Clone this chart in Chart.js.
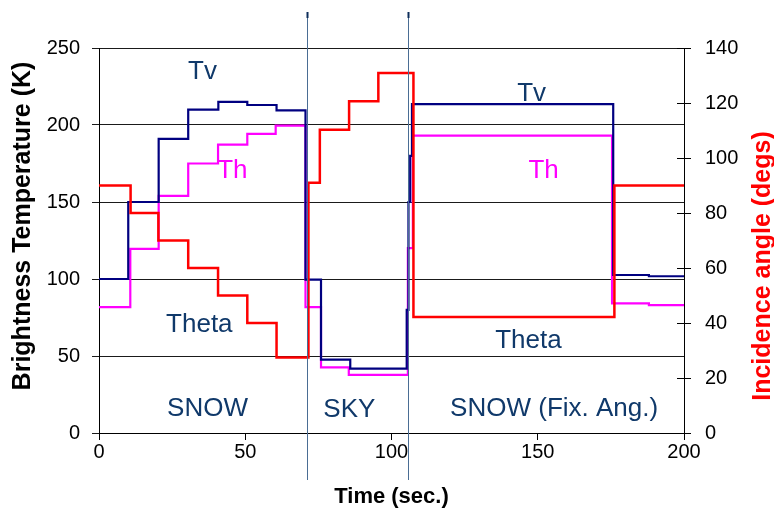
<!DOCTYPE html>
<html>
<head>
<meta charset="utf-8">
<title>Brightness temperature and incidence angle</title>
<script src="https://cdn.jsdelivr.net/npm/chart.js@4/dist/chart.umd.min.js"></script>
<style>
  html, body { margin: 0; padding: 0; background: #ffffff; }
  #wrap { width: 774px; height: 522px; position: relative; }
</style>
</head>
<body>
<div id="wrap"><canvas id="chart"></canvas></div>
<script>
// Radiometer record: each entry starts a new level (step) at that time (s)
const tvTime = [0, 10.0, 20.4, 30.5, 40.8, 50.7, 60.7, 70.6, 75.9, 85.9, 105.2, 105.8, 106.4, 107.0, 175.8, 188.0, 200];
const tvK    = [100, 150, 191, 210, 215, 213, 209.5, 99.6, 47.6, 41.8, 80, 150, 180, 213.6, 102.6, 101.8, 101.8];

const thTime = [0, 10.7, 20.4, 30.5, 40.7, 50.7, 60.4, 70.6, 75.9, 85.4, 105.6, 107.3, 175.4, 188.0, 200];
const thK    = [81.8, 119.5, 154, 175, 187.2, 194.2, 199.6, 81.8, 42.6, 37.8, 120, 193.1, 84.2, 83.1, 83.1];

const thetaTime = [0, 10.8, 20.3, 30.5, 40.7, 50.7, 60.7, 71.6, 75.5, 85.5, 95.5, 107.5, 176.2, 200];
const thetaDeg  = [90, 80, 70, 60, 50, 40, 27.5, 91, 110.3, 120.6, 130.9, 42.2, 90, 90];

// Boundaries between the measurement phases (s)
const phaseBreaks = [71.2, 105.6];

// Axis ranges and tick spacing
const timeTicks = { min: 0, max: 200, step: 50 };
const tbTicks = { min: 0, max: 250, step: 50 };
const angleTicks = { min: 0, max: 140, step: 20 };

// In-plot labels: text, time, brightness temperature
const noteText = ['Tv', 'Th', 'Theta', 'SNOW', 'SKY', 'SNOW (Fix. Ang.)', 'Tv', 'Th', 'Theta'];
const noteTime = [35.4, 45.6, 34.3, 37.1, 85.6, 155.6, 147.9, 152.0, 146.8];
const noteK    = [229.9, 165.6, 65.6, 11.0, 10.4, 11.0, 215.6, 165.6, 55.2];

const FONT = '"Liberation Sans", Arial, sans-serif';
const NAVY_TEXT = '#10396a';
const noteColor = ['navy', 'magenta', 'navy', 'navy', 'navy', 'navy', 'navy', 'magenta', 'navy'];

const pts = (ts, vs) => ts.map((t, i) => ({ x: t, y: vs[i] }));

const overlay = {
  id: 'overlay',
  afterDraw(chart) {
    const ctx = chart.ctx;
    const xs = chart.scales.x, ys = chart.scales.y, y2 = chart.scales.y2;
    ctx.save();

    // inner half of the cross tick marks on the angle axis
    ctx.strokeStyle = '#000';
    ctx.lineWidth = 1;
    y2.ticks.forEach(tk => {
      const py = Math.round(y2.getPixelForValue(tk.value)) + 0.5;
      ctx.beginPath();
      ctx.moveTo(y2.left - 7, py);
      ctx.lineTo(y2.left, py);
      ctx.stroke();
    });

    // phase divider lines
    phaseBreaks.forEach(t => {
      const px = Math.round(xs.getPixelForValue(t)) + 0.5;
      ctx.strokeStyle = '#4a6d94';
      ctx.lineWidth = 1;
      ctx.beginPath();
      ctx.moveTo(px, 12);
      ctx.lineTo(px, 480);
      ctx.stroke();
      ctx.strokeStyle = '#0d2d5a';
      ctx.lineWidth = 2;
      ctx.beginPath();
      ctx.moveTo(px, 12);
      ctx.lineTo(px, 18);
      ctx.stroke();
    });

    // in-plot labels
    ctx.font = '26px ' + FONT;
    ctx.textAlign = 'center';
    ctx.textBaseline = 'alphabetic';
    noteText.forEach((txt, i) => {
      ctx.fillStyle = noteColor[i] === 'magenta' ? '#ff00ff' : NAVY_TEXT;
      ctx.fillText(txt, xs.getPixelForValue(noteTime[i]), ys.getPixelForValue(noteK[i]));
    });

    // vertical axis titles
    ctx.textBaseline = 'middle';
    ctx.font = 'bold 25px ' + FONT;
    ctx.fillStyle = '#000';
    ctx.save();
    ctx.translate(23, 226);
    ctx.rotate(-Math.PI / 2);
    ctx.fillText('Brightness Temperature (K)', 0, 0);
    ctx.restore();

    ctx.fillStyle = '#ff0000';
    ctx.save();
    ctx.translate(763, 266);
    ctx.rotate(-Math.PI / 2);
    ctx.fillText('Incidence angle (degs)', 0, 0);
    ctx.restore();

    ctx.restore();
  }
};

new Chart(document.getElementById('chart'), {
  type: 'line',
  data: {
    datasets: [
      {
        label: 'Theta',
        data: pts(thetaTime, thetaDeg),
        yAxisID: 'y2',
        borderColor: '#ff0000',
        borderWidth: 2.5,
        stepped: 'before',
        pointRadius: 0,
        order: 0
      },
      {
        label: 'Tv',
        data: pts(tvTime, tvK),
        yAxisID: 'y',
        borderColor: '#000080',
        borderWidth: 2.2,
        stepped: 'before',
        pointRadius: 0,
        order: 1
      },
      {
        label: 'Th',
        data: pts(thTime, thK),
        yAxisID: 'y',
        borderColor: '#ff00ff',
        borderWidth: 2.2,
        stepped: 'before',
        pointRadius: 0,
        order: 2
      }
    ]
  },
  options: {
    responsive: true,
    maintainAspectRatio: false,
    animation: false,
    layout: { padding: { top: 48, left: 0, right: 0, bottom: 0 } },
    plugins: { legend: { display: false }, tooltip: { enabled: false } },
    scales: {
      x: {
        type: 'linear',
        min: timeTicks.min, max: timeTicks.max,
        afterFit(s) { s.height = 89; },
        ticks: { stepSize: timeTicks.step, color: '#000', font: { family: FONT, size: 20 }, padding: 0, maxRotation: 0 },
        grid: { drawOnChartArea: false, drawTicks: true, tickLength: 7, color: '#000', lineWidth: 1 },
        border: { display: true, color: '#000', width: 1 },
        title: { display: true, text: 'Time (sec.)', color: '#000', font: { family: FONT, size: 22, weight: 'bold' }, padding: { top: 0, bottom: 12 } }
      },
      y: {
        position: 'left',
        min: tbTicks.min, max: tbTicks.max,
        afterFit(s) { s.width = 99; },
        ticks: { stepSize: tbTicks.step, color: '#000', font: { family: FONT, size: 20 }, padding: 12 },
        grid: { color: '#1a1a1a', lineWidth: 1, tickLength: 7 },
        border: { display: true, color: '#000', width: 1 }
      },
      y2: {
        position: 'right',
        min: angleTicks.min, max: angleTicks.max,
        afterFit(s) { s.width = 90; },
        ticks: { stepSize: angleTicks.step, color: '#000', font: { family: FONT, size: 20 }, padding: 14 },
        grid: { drawOnChartArea: false, tickLength: 7, color: '#000', lineWidth: 1 },
        border: { display: true, color: '#000', width: 1 }
      }
    }
  },
  plugins: [overlay]
});
</script>
</body>
</html>
